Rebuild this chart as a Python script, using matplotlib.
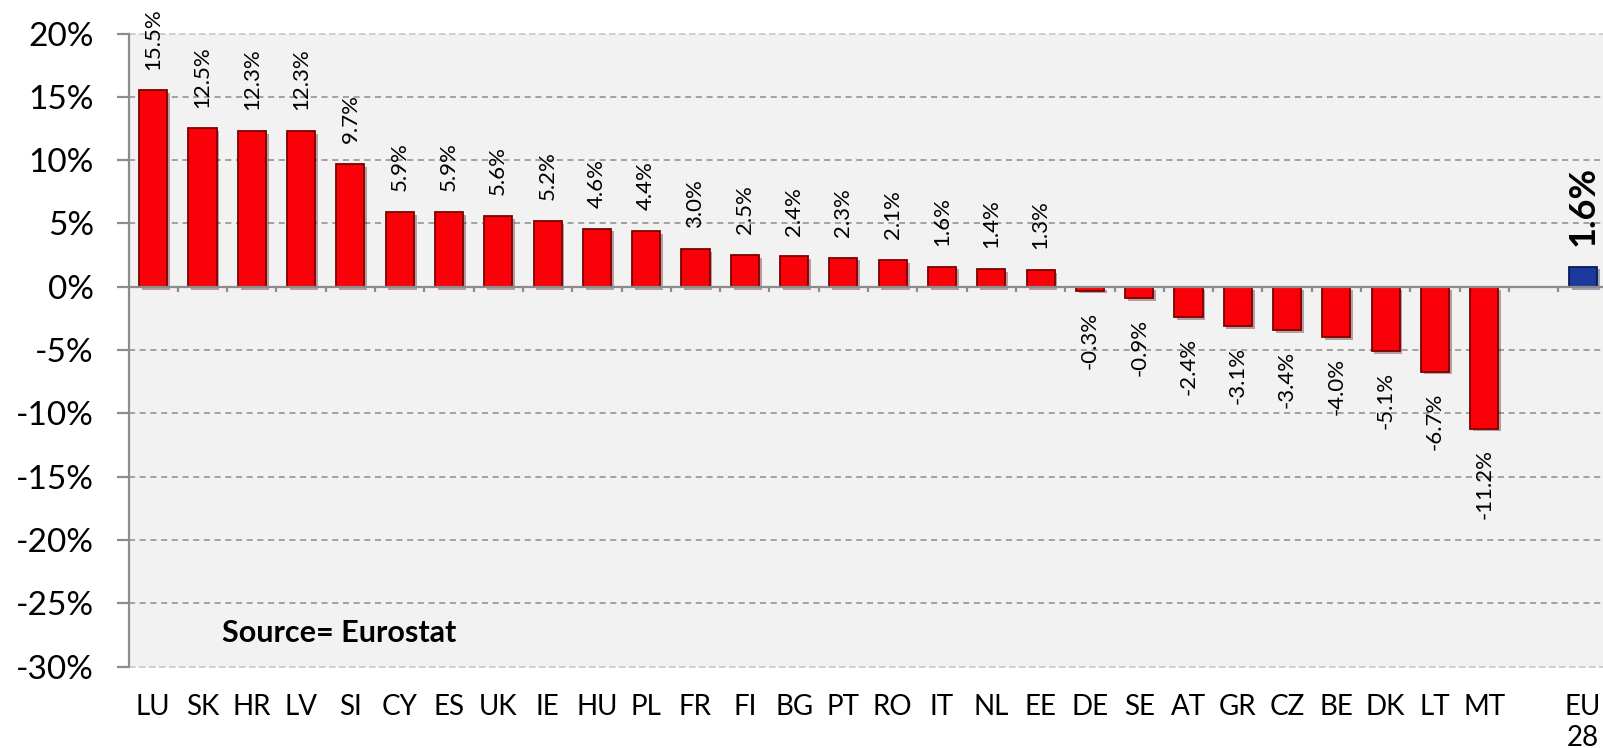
import matplotlib
matplotlib.use("Agg")
import matplotlib.pyplot as plt
import matplotlib.patheffects as pe
import numpy as np

# Data (percent change)
countries = ["LU", "SK", "HR", "LV", "SI", "CY", "ES", "UK", "IE", "HU", "PL", "FR", "FI", "BG",
             "PT", "RO", "IT", "NL", "EE", "DE", "SE", "AT", "GR", "CZ", "BE", "DK", "LT", "MT"]
values = [15.5, 12.5, 12.3, 12.3, 9.7, 5.9, 5.9, 5.6, 5.2, 4.6, 4.4, 3.0, 2.5, 2.4,
          2.3, 2.1, 1.6, 1.4, 1.3, -0.3, -0.9, -2.4, -3.1, -3.4, -4.0, -5.1, -6.7, -11.2]
eu_label = "EU\n28"
eu_value = 1.6
yticks = [20, 15, 10, 5, 0, -5, -10, -15, -20, -25, -30]

plt.rcParams['font.family'] = ['Lato', 'DejaVu Sans']

fig = plt.figure(figsize=(16.03, 7.48), dpi=100)
ax = fig.add_axes([0.0802, 0.1087, 0.9226, 0.8465])
ax.set_facecolor('#F2F2F2')

n = len(countries)
x = np.arange(n)
eu_x = n + 1  # one empty slot before EU28

shadow = [pe.SimplePatchShadow(offset=(2, -2), alpha=0.35), pe.Normal()]
bars = ax.bar(x, values, width=0.57, color='#FA0008', edgecolor='#7A0000',
              linewidth=1.3, zorder=3)
for b in bars:
    b.set_path_effects(shadow)
eu_bar = ax.bar([eu_x], [eu_value], width=0.57, color='#1B3A9E', edgecolor='#0A1A55',
                linewidth=1.3, zorder=3)
eu_bar[0].set_path_effects(shadow)

# value labels
for xi, v in zip(x, values):
    ax.annotate(f"{v:.1f}%", (xi, v), xytext=(0, 15 if v >= 0 else -15),
                textcoords='offset points', rotation=90, ha='center',
                va='bottom' if v >= 0 else 'top', fontsize=16, color='black')
ax.annotate(f"{eu_value:.1f}%", (eu_x, eu_value), xytext=(0, 15), textcoords='offset points',
            rotation=90, ha='center', va='bottom', fontsize=26, fontweight='bold')

ax.set_xlim(-0.5, n + 1.5)
ax.set_ylim(-30, 20)

# gridlines
for yt in yticks:
    if yt in (20, -30):
        ax.axhline(yt, color='#C8C8C8', lw=1.2, ls=(0, (4, 2)), zorder=1, clip_on=False)
    elif yt != 0:
        ax.axhline(yt, color='#8C8C8C', lw=1.1, ls=(0, (4, 3)), zorder=1)
ax.axhline(0, color='#8C8C8C', lw=1.6, zorder=4)

# small ticks on the zero line between categories
bounds = np.arange(0, n + 2) + 0.5
ax.vlines(bounds, -0.45, 0, color='#8C8C8C', lw=1.6, zorder=4)

for s in ['top', 'right', 'bottom']:
    ax.spines[s].set_visible(False)
ax.spines['left'].set_color('#8C8C8C')
ax.spines['left'].set_linewidth(1.6)

ax.set_yticks(yticks)
ax.set_yticklabels([f"{t}%" for t in yticks], fontsize=24)
ax.tick_params(axis='y', length=9, width=1.6, color='#8C8C8C', pad=16)

ax.set_xticks(list(x) + [eu_x])
ax.set_xticklabels(countries + [eu_label], fontsize=20, va='top', linespacing=1.2)
ax.tick_params(axis='x', length=0, pad=20)

ax.text(1.4, -27.3, "Source= Eurostat", fontsize=22, fontweight='bold', va='center', ha='left')

fig.savefig("out.png", dpi=100)
